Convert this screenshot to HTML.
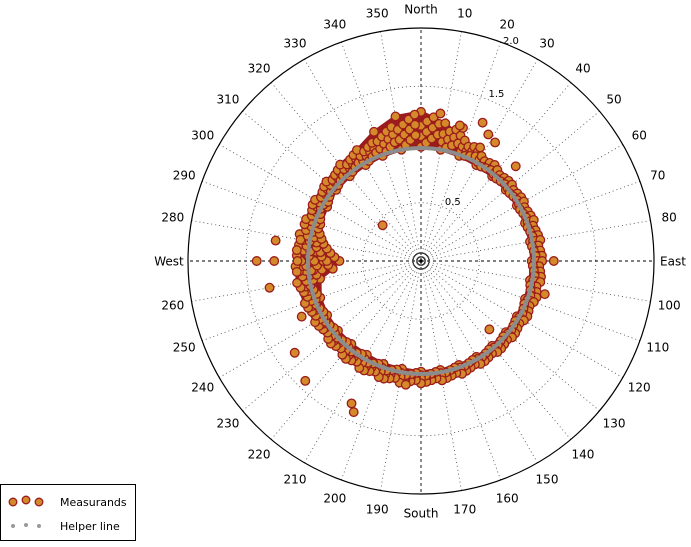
<!DOCTYPE html>
<html><head><meta charset="utf-8"><style>
body{margin:0;background:#fff;width:691px;height:542px;overflow:hidden;font-family:"Liberation Sans","DejaVu Sans",sans-serif}
svg text{font-family:"DejaVu Sans","Liberation Sans",sans-serif}
</style></head><body>
<svg id="chart" width="691" height="542" xmlns="http://www.w3.org/2000/svg">
<g id="grid"></g>
<g id="band"></g>
<g id="pts"></g>
<g id="helper"></g>
<g id="labels"></g>
<g>
<rect x="0.5" y="484.5" width="135" height="56" fill="#fff" stroke="#000"/>
<circle cx="13" cy="502" r="3.8" fill="#d4892a" stroke="#9b1c1c" stroke-width="1.3"/>
<circle cx="26" cy="500" r="3.8" fill="#d4892a" stroke="#9b1c1c" stroke-width="1.3"/>
<circle cx="39" cy="502" r="3.8" fill="#d4892a" stroke="#9b1c1c" stroke-width="1.3"/>
<text x="60" y="506" font-size="11">Measurands</text>
<circle cx="13" cy="526" r="2" fill="#999"/><circle cx="26" cy="525" r="2" fill="#999"/><circle cx="39" cy="526" r="2" fill="#999"/>
<text x="60" y="530" font-size="11">Helper line</text>
</g>
</svg>
<script>
const bandAngles=[0,10,20,30,40,50,60,70,80,90,100,110,120,130,140,150,160,170,180,190,200,210,220,230,240,250,260,265,270,275,280,290,300,310,320,330,340,350];
const bandInner=[0.98,0.97,0.96,0.95,0.95,0.95,0.95,0.95,0.95,0.95,0.95,0.95,0.95,0.95,0.95,0.95,0.95,0.95,0.95,0.94,0.94,0.93,0.93,0.93,0.93,0.92,0.88,0.76,0.70,0.78,0.85,0.92,0.93,0.95,0.95,0.95,0.96,0.97];
const bandOuter=[1.28,1.2,1.1,1.04,1.02,1.02,1.02,1.03,1.04,1.04,1.04,1.03,1.02,1.02,1.02,1.02,1.03,1.04,1.05,1.06,1.06,1.06,1.05,1.04,1.05,1.06,1.08,1.07,1.06,1.07,1.05,1.05,1.05,1.06,1.08,1.1,1.18,1.26];
const outAngles=[16,28,24,313,270,260,270,278,234,224,204,206,187,135,105,90,245,32,45];
const outRadii=[1.21,1.23,1.3,0.45,1.41,1.32,1.26,1.26,1.34,1.43,1.42,1.36,1.07,0.83,1.1,1.14,1.13,1.2,1.15];
const helperR=0.97;
const ringVals=[0.5,1.0,1.5,2.0];
const CX=421,CY=261,R=233,RMAX=2.0;
const NS="http://www.w3.org/2000/svg";
function rs(v){return v/RMAX*R}
function xy(a,v){const t=a*Math.PI/180;return [CX+rs(v)*Math.sin(t),CY-rs(v)*Math.cos(t)]}
function mk(tag,attrs,parent){const e=document.createElementNS(NS,tag);for(const k in attrs)e.setAttribute(k,attrs[k]);parent.appendChild(e);return e}
const grid=document.getElementById('grid');
for(let a=0;a<360;a+=10){const p=xy(a,RMAX);const ax=a%90===0;
const l=mk('line',{x1:CX,y1:CY,x2:p[0],y2:p[1],stroke:ax?'#000':'#444','stroke-width':ax?0.9:0.8,'stroke-dasharray':ax?'3,3':'1,3'},grid);

}
ringVals.forEach(v=>{const c=mk('circle',{cx:CX,cy:CY,r:rs(v),fill:'none',stroke:v===RMAX?'#000':'#444','stroke-width':v===RMAX?1.2:0.8,'stroke-dasharray':v===RMAX?'none':'1,3'},grid);


if(v<RMAX){const p=xy(22,v);const t=mk('text',{x:p[0]+2,y:p[1]-2,'font-size':10},grid);t.textContent=v.toFixed(1);

}
else{const t=mk('text',{x:503,y:44,'font-size':10},grid);t.textContent='2.0';

}});
[4,8].forEach(r=>mk('circle',{cx:CX,cy:CY,r:r,fill:'none',stroke:'#222','stroke-width':1},grid));
mk('circle',{cx:CX,cy:CY,r:1.8,fill:'#000'},grid);
const band=document.getElementById('band');let d='';
bandAngles.forEach((a,i)=>{const p=xy(a,bandOuter[i]);d+=(i?'L':'M')+p[0]+','+p[1]});
d+='Z';for(let i=bandAngles.length-1;i>=0;i--){const p=xy(bandAngles[i],bandInner[i]);d+=(i===bandAngles.length-1?'M':'L')+p[0]+','+p[1]}d+='Z';
const bp=mk('path',{d:d,fill:'#9b1c1c','fill-rule':'evenodd',stroke:'#9b1c1c','stroke-width':3,'stroke-linejoin':'round'},band);


const pts=document.getElementById('pts');
function dot(a,v){const p=xy(a,v);const c=mk('circle',{cx:p[0],cy:p[1],r:4.3,fill:'#d4892a',stroke:'#9b1c1c','stroke-width':1.3},pts);

}
const fr=[0,0.3,0.6,1];
bandAngles.forEach((a,i)=>{const span=bandOuter[i]-bandInner[i];
for(let s=0;s<4;s++){const aa=a+s*2.5;fr.forEach((f,k)=>{dot(aa,bandInner[i]+span*((f+s*0.13)%1.01))});}});
outAngles.forEach((a,i)=>dot(a,outRadii[i]));
const h=mk('circle',{cx:CX,cy:CY,r:rs(helperR),fill:'none',stroke:'#8c8c8c','stroke-width':4},document.getElementById('helper'));


const labs=document.getElementById('labels');
const names={0:'North',90:'East',180:'South',270:'West'};
for(let a=0;a<360;a+=10){const t=a*Math.PI/180;const rr=252;const x=CX+rr*Math.sin(t),y=CY-rr*Math.cos(t);
const e=mk('text',{x:x,y:y+4.5,'font-size':12,'text-anchor':'middle'},labs);e.textContent=names[a]||String(a);

}
</script>
</body></html>
